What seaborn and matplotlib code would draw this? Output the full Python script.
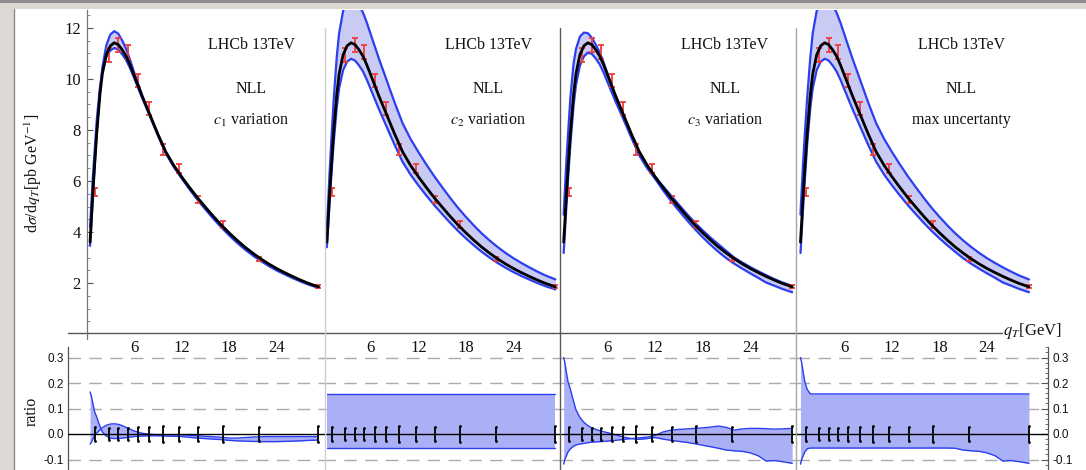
import numpy as np
import matplotlib
matplotlib.use("Agg")
import matplotlib.pyplot as plt
from matplotlib.lines import Line2D
from matplotlib.patches import Rectangle
from matplotlib.ticker import MultipleLocator, FixedLocator
import seaborn as sns

# ---------------------------------------------------------------- data
# LHCb 13 TeV Z-boson q_T spectrum (bin centres in GeV) and cross sections
QT_DATA = [1.1, 2.8, 4.0, 5.2, 6.5, 7.95, 9.6, 11.65, 14.1, 17.2, 21.75, 29.25]
XSEC_DATA = [5.58, 10.95, 11.35, 11.05, 9.95, 8.85, 7.25, 6.48, 5.28, 4.30, 2.95, 1.85]
REL_ERR = [0.028, 0.025, 0.024, 0.025, 0.026, 0.028, 0.030, 0.027, 0.028, 0.030, 0.028, 0.030]

# NLL prediction (central scale choice)
QT_CURVE = [0.45, 0.6, 0.8, 1.0, 1.3, 1.7, 2.0, 2.5, 3.0, 3.5,
            4.0, 4.5, 5.0, 5.5, 6.0,
            7, 8, 9, 10, 11, 12, 13, 14, 15, 16, 17, 18, 19, 20,
            21, 22, 23, 24, 25, 26, 27, 28, 29.3]
NLL_CENTRAL = [3.6, 4.4, 5.5, 6.5, 7.9, 9.4, 10.2, 10.95, 11.3, 11.42,
               11.35, 11.15, 10.9, 10.55, 10.15,
               9.35, 8.6, 7.85, 7.15, 6.62, 6.17, 5.75, 5.35, 4.98, 4.62, 4.28, 3.97, 3.68, 3.41,
               3.17, 2.95, 2.75, 2.57, 2.41, 2.26, 2.12, 1.99, 1.85]

# relative deviation from the central prediction for each scale variation
C1_A = [0.165, 0.15, 0.12, 0.09, 0.065, 0.03, 0.008, -0.008, -0.016, -0.018,
        -0.017, -0.016, -0.014, -0.012, -0.010,
        -0.008, -0.007, -0.007, -0.008, -0.009, -0.010, -0.013, -0.016, -0.018, -0.020, -0.022, -0.025, -0.027, -0.028,
        -0.029, -0.030, -0.030, -0.030, -0.029, -0.028, -0.027, -0.025, -0.024]
C1_B = [-0.040, -0.033, -0.020, -0.008, 0.004, 0.016, 0.025, 0.034, 0.039, 0.040,
        0.038, 0.033, 0.026, 0.019, 0.012,
        0.003, -0.001, -0.003, -0.003, -0.003, -0.003, -0.005, -0.007, -0.009, -0.011, -0.013, -0.016, -0.016, -0.014,
        -0.012, -0.011, -0.010, -0.010, -0.010, -0.010, -0.010, -0.010, -0.010]
C2_UP = [0.157] * len(QT_CURVE)
C2_DN = [-0.055] * len(QT_CURVE)
C3_A = [0.300, 0.280, 0.240, 0.205, 0.175, 0.128, 0.095, 0.065, 0.046, 0.033,
        0.024, 0.018, 0.013, 0.009, 0.005,
        -0.003, -0.012, -0.018, -0.021, -0.018, -0.014, -0.020, -0.025, -0.029, -0.033, -0.038, -0.044, -0.050, -0.056,
        -0.063, -0.066, -0.068, -0.074, -0.085, -0.106, -0.104, -0.108, -0.115]
C3_B = [-0.118, -0.100, -0.085, -0.070, -0.058, -0.048, -0.043, -0.039, -0.037, -0.034,
        -0.032, -0.031, -0.030, -0.029, -0.028,
        -0.025, -0.021, -0.018, -0.015, -0.012, -0.006, 0.008, 0.015, 0.018, 0.020, 0.022, 0.024, 0.027, 0.031,
        0.026, 0.015, 0.020, 0.022, 0.022, 0.021, 0.019, 0.020, 0.022]

PANEL_LABELS = [r"$c_1$ variation", r"$c_2$ variation", r"$c_3$ variation", "max uncertanty"]
X_TICKS = [6, 12, 18, 24]

# ---------------------------------------------------------------- style
sns.set_theme(style="white")
plt.rcParams["font.family"] = ["Liberation Serif", "DejaVu Serif"]
plt.rcParams["mathtext.fontset"] = "stix"
plt.rcParams["axes.facecolor"] = "none"

BAND_FILL = "#c9cbf5"
RATIO_FILL = "#aab0f6"
BAND_EDGE = "#2b3ff0"
DATA_RED = "#f03c3c"
AXIS_GREY = "#555555"

W, H = 1086, 470
fig = plt.figure(figsize=(W / 100, H / 100), dpi=100, facecolor="#dcd9d4")


def add_axes_px(x0, x1, y0, y1):
    return fig.add_axes([x0 / W, 1 - y1 / H, (x1 - x0) / W, (y1 - y0) / H])


def fig_line(xs, ys, **kw):
    fig.add_artist(Line2D([x / W for x in xs], [1 - y / H for y in ys],
                          transform=fig.transFigure, **kw))


# page background: white sheet with a thin frame
fig.add_artist(Rectangle((14 / W, 0), 1 - 14 / W, 1 - 9 / H, transform=fig.transFigure,
                         facecolor="white", edgecolor="none", zorder=-5))
fig.add_artist(Rectangle((0, 1 - 2.5 / H), 1, 2.5 / H, transform=fig.transFigure,
                         facecolor="#8e8e8e", edgecolor="none", zorder=-4))
fig_line([13.5, 13.5], [9, 470], color="#8a8a8a", lw=1.0)

# geometry (pixels)
PX_PER_GEV = 7.92
LEFTS = [86.5, 323.3, 560.1, 796.9]
PANEL_W = 30 * PX_PER_GEV
TOP_Y0, TOP_Y1 = 10, 332.7
TOP_ZERO, TOP_SCALE = 334.0, 25.5
RAT_Y0, RAT_Y1 = 347, 470
RAT_ZERO, RAT_SCALE = 434.0, 255.0

top_ylim = ((TOP_ZERO - TOP_Y1) / TOP_SCALE, (TOP_ZERO - TOP_Y0) / TOP_SCALE)
rat_ylim = ((RAT_ZERO - RAT_Y1) / RAT_SCALE, (RAT_ZERO - RAT_Y0) / RAT_SCALE)

qt = np.array(QT_CURVE)
central = np.array(NLL_CENTRAL)
variations = [
    (np.array(C1_A), np.array(C1_B)),
    (np.array(C2_UP), np.array(C2_DN)),
    (np.array(C3_A), np.array(C3_B)),
]
all_dev = np.array([C1_A, C1_B, C2_UP, C2_DN, C3_A, C3_B])
variations.append((all_dev.max(axis=0), all_dev.min(axis=0)))

qt_data = np.array(QT_DATA)
xsec = np.array(XSEC_DATA)
rel_err = np.array(REL_ERR)

for i, (left, (dev_a, dev_b)) in enumerate(zip(LEFTS, variations)):
    # ------------------------------------------------ spectrum panel
    ax = add_axes_px(left, left + PANEL_W, TOP_Y0, TOP_Y1)
    lo_curve = central * (1 + np.minimum(dev_a, dev_b))
    hi_curve = central * (1 + np.maximum(dev_a, dev_b))
    ax.fill_between(qt, central * (1 + dev_a), central * (1 + dev_b),
                    color=BAND_FILL, lw=0, zorder=1)
    sns.lineplot(x=qt, y=central * (1 + dev_a), ax=ax, color=BAND_EDGE, lw=1.6, zorder=2)
    sns.lineplot(x=qt, y=central * (1 + dev_b), ax=ax, color=BAND_EDGE, lw=1.6, zorder=2)
    ax.errorbar(qt_data, xsec, yerr=xsec * rel_err, fmt="none", ecolor=DATA_RED,
                elinewidth=1.3, capsize=2.2, capthick=1.3, zorder=3)
    sns.lineplot(x=qt, y=central, ax=ax, color="black", lw=2.0, zorder=4)

    ax.set_xlim(0, 30)
    ax.set_ylim(*top_ylim)
    ax.set_xlabel("")
    ax.set_ylabel("")
    for side in ("top", "right", "bottom", "left"):
        ax.spines[side].set_visible(False)
    ax.xaxis.set_major_locator(FixedLocator(X_TICKS))
    ax.tick_params(axis="x", which="major", direction="in", length=5, width=0.8,
                   color=AXIS_GREY, pad=5, labelsize=12, labelcolor="#111111")
    if i == 0:
        ax.spines["left"].set_visible(True)
        ax.spines["left"].set_color("#777777")
        ax.spines["left"].set_linewidth(0.9)
        ax.yaxis.set_major_locator(MultipleLocator(2))
        ax.yaxis.set_minor_locator(MultipleLocator(0.5))
        ax.set_yticks([2, 4, 6, 8, 10, 12])
        ax.tick_params(axis="y", which="major", direction="in", length=4.5, width=0.8,
                       color=AXIS_GREY, pad=4, labelsize=12, labelcolor="#111111", left=True)
        ax.tick_params(axis="y", which="minor", direction="in", length=2.5, width=0.6,
                       color="#777777", left=True)
    else:
        ax.set_yticks([])

    ax.text(20.8, 11.33, "LHCb 13TeV", ha="center", va="center", fontsize=11.5, color="#111111")
    ax.text(20.8, 9.6, "NLL", ha="center", va="center", fontsize=11.5, color="#111111")
    ax.text(20.8, 8.39, PANEL_LABELS[i], ha="center", va="center", fontsize=11.5, color="#111111")

    # ------------------------------------------------ ratio panel
    r_left = 68 if i == 0 else left
    r_right = 1048 if i == 3 else left + PANEL_W
    rax = add_axes_px(r_left, r_right, RAT_Y0, RAT_Y1)
    rax.fill_between(qt, dev_a, dev_b, color=RATIO_FILL, lw=0, zorder=1)
    sns.lineplot(x=qt, y=dev_a, ax=rax, color=BAND_EDGE, lw=1.0, zorder=2)
    sns.lineplot(x=qt, y=dev_b, ax=rax, color=BAND_EDGE, lw=1.0, zorder=2)
    for level in (0.3, 0.2, 0.1, -0.1):
        rax.axhline(level, color="#ababab", lw=1.0, ls=(0, (9, 6)), zorder=0.5)
    rax.axhline(0.0, color="black", lw=1.0, zorder=3)
    rax.vlines(qt_data, -rel_err, rel_err, color="black", lw=1.3, zorder=4)
    rax.scatter(np.concatenate([qt_data, qt_data]), np.concatenate([rel_err, -rel_err]),
                s=4, color="black", zorder=5, linewidths=0)

    rax.set_xlim((r_left - left) / PX_PER_GEV, (r_right - left) / PX_PER_GEV)
    rax.set_ylim(*rat_ylim)
    rax.set_xlabel("")
    rax.set_ylabel("")
    rax.set_xticks([])
    for side in ("top", "right", "bottom", "left"):
        rax.spines[side].set_visible(False)
    if i in (0, 3):
        side = "left" if i == 0 else "right"
        rax.spines[side].set_visible(True)
        rax.spines[side].set_color(AXIS_GREY)
        rax.spines[side].set_linewidth(0.9)
        rax.yaxis.set_major_locator(FixedLocator([-0.1, 0.0, 0.1, 0.2, 0.3]))
        rax.yaxis.set_minor_locator(MultipleLocator(0.02))
        rax.yaxis.set_major_formatter(plt.FuncFormatter(lambda v, p: f"{v:.1f}"))
        if side == "right":
            rax.yaxis.tick_right()
        rax.tick_params(axis="y", which="major", direction="in", length=5, width=0.8,
                        color=AXIS_GREY, pad=3, labelsize=8.5, labelcolor="#111111")
        rax.tick_params(axis="y", which="minor", direction="in", length=2.5, width=0.6,
                        color=AXIS_GREY)
        for lbl in rax.get_yticklabels():
            lbl.set_family(["Liberation Sans", "DejaVu Sans"])
    else:
        rax.set_yticks([])

# shared q_T axis line and the extension of the first y axis below it
fig_line([68, 1002], [332.7, 332.7], color=AXIS_GREY, lw=1.0)
fig_line([86.6, 86.6], [332.7, 338.5], color="#777777", lw=0.9)

# cell separators
fig_line([325, 325], [28, 470], color="#cfcfcf", lw=1.0)
fig_line([559.5, 559.5], [28, 470], color="#5a5a5a", lw=1.0)
fig_line([796, 796], [28, 470], color="#a8a8a8", lw=1.0)

# axis titles
fig.text(33 / W, 1 - 173 / H, r"d$\sigma$/d$q_T$[pb GeV$^{-1}$]", rotation=90,
         ha="center", va="center", fontsize=11.5, color="#111111")
fig.text(32 / W, 1 - 411 / H, "ratio", rotation=90, ha="center", va="center",
         fontsize=11.5, color="#111111")
fig.text(1003 / W, 1 - 331 / H, r"$q_T$[GeV]", ha="left", va="center",
         fontsize=12, color="#111111")

fig.savefig("out.png", dpi=100, facecolor=fig.get_facecolor())
